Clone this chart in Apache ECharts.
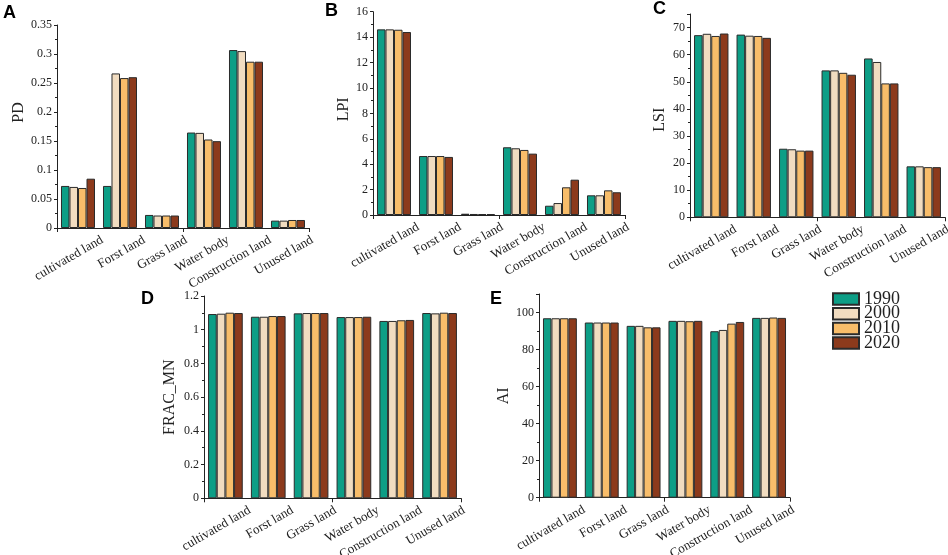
<!DOCTYPE html>
<html>
<head>
<meta charset="utf-8">
<script src="https://cdn.jsdelivr.net/npm/echarts@6/dist/echarts.min.js"></script>
<style>
  html, body { margin: 0; padding: 0; background: #fff; }
  #main { width: 948px; height: 555px; }
</style>
</head>
<body>
<div id="main"></div>
<script>
var categories = ['cultivated land', 'Forst land', 'Grass land', 'Water body', 'Construction land', 'Unused land'];
var years = ['1990', '2000', '2010', '2020'];
var colors = ['#0d9e86', '#f1dcc0', '#f8bd6a', '#8c3a1c'];

// one row per year (1990, 2000, 2010, 2020)
var PD = [
    [0.0725, 0.0725, 0.0225, 0.1646, 0.3068, 0.0127],
    [0.0708, 0.2665, 0.0215, 0.1640, 0.3050, 0.0127],
    [0.0690, 0.2585, 0.0215, 0.1526, 0.2867, 0.0138],
    [0.0850, 0.2600, 0.0215, 0.1497, 0.2867, 0.0138]
];
var LPI = [
    [14.61, 4.64, 0.10, 5.33, 0.73, 1.55],
    [14.61, 4.64, 0.08, 5.25, 0.94, 1.55],
    [14.58, 4.64, 0.07, 5.12, 2.18, 1.94],
    [14.40, 4.57, 0.07, 4.83, 2.78, 1.79]
];
var LSI = [
    [67.2, 67.4, 25.3, 54.2, 58.6, 18.8],
    [67.7, 67.0, 25.1, 54.2, 57.3, 18.8],
    [66.9, 66.9, 24.6, 53.3, 49.4, 18.5],
    [67.8, 66.2, 24.6, 52.6, 49.4, 18.5]
];
var FRAC_MN = [
    [1.093, 1.077, 1.097, 1.075, 1.052, 1.099],
    [1.095, 1.077, 1.099, 1.075, 1.052, 1.097],
    [1.101, 1.081, 1.099, 1.075, 1.056, 1.101],
    [1.099, 1.081, 1.099, 1.077, 1.058, 1.099]
];
var AI = [
    [96.9, 94.6, 92.8, 95.5, 89.9, 97.1],
    [96.9, 94.6, 92.8, 95.5, 90.6, 97.1],
    [96.9, 94.6, 92.0, 95.3, 94.0, 97.3],
    [96.9, 94.6, 92.0, 95.5, 94.9, 97.1]
];

var serif = 'Liberation Serif, Times New Roman, serif';
var ink = '#222';

// panel layout: letter, axis name, data, y range, grid box
// namePad moves the rotated axis name along the axis (left pad = up)
var panels = [
    { letter: 'A', name: 'PD', data: PD, max: 0.35, interval: 0.05, gap: 27, namePad: [0, 0, 0, 28],
      grid: { left: 57, top: 25, width: 252, height: 203 }, lx: 3, ly: 4 },
    { letter: 'B', name: 'LPI', data: LPI, max: 16, interval: 2, gap: 20, namePad: [0, 0, 0, 8],
      grid: { left: 373, top: 11.7, width: 252, height: 203.3 }, lx: 325, ly: 2 },
    { letter: 'C', name: 'LSI', data: LSI, max: 75, interval: 10, gap: 22, namePad: [0, 8, 0, 0],
      grid: { left: 690, top: 14, width: 255, height: 203.3 }, lx: 653, ly: 0 },
    { letter: 'D', name: 'FRAC_MN', data: FRAC_MN, max: 1.2, interval: 0.2, gap: 26, namePad: [0, 0, 0, 0],
      grid: { left: 204, top: 296, width: 257, height: 202.3 }, lx: 141, ly: 290 },
    { letter: 'E', name: 'AI', data: AI, max: 110, interval: 20, gap: 19, namePad: [0, 0, 0, 0],
      grid: { left: 539, top: 294, width: 251, height: 203.7 }, lx: 490, ly: 290 }
];

var grids = [], xAxes = [], yAxes = [], series = [], graphics = [];

panels.forEach(function (p, i) {
    grids.push(Object.assign({ outerBoundsMode: 'none', containLabel: false }, p.grid));
    xAxes.push({
        type: 'category',
        gridIndex: i,
        data: categories,
        axisLine: { lineStyle: { color: ink, width: 1 } },
        axisTick: { alignWithLabel: true, length: 4, lineStyle: { color: ink } },
        axisLabel: {
            interval: 0,
            rotate: 30,
            align: 'right',
            verticalAlign: 'middle',
            margin: 25,
            padding: [0, -28, 0, 0],
            fontFamily: serif,
            fontSize: 13,
            color: ink
        }
    });
    yAxes.push({
        type: 'value',
        gridIndex: i,
        min: 0,
        max: p.max,
        interval: p.interval,
        name: p.name,
        nameLocation: 'middle',
        nameGap: p.gap,
        nameTextStyle: { fontFamily: serif, fontSize: 16, color: ink, padding: p.namePad },
        axisLine: { show: true, lineStyle: { color: ink, width: 1 } },
        axisTick: { show: true, inside: false, length: 3, lineStyle: { color: ink } },
        minorTick: { show: true, splitNumber: 2, length: 2, lineStyle: { color: ink } },
        splitLine: { show: false },
        axisLabel: {
            margin: 5,
            showMaxLabel: p.max === 75 || p.max === 110 ? false : true,
            fontFamily: serif,
            fontSize: 12,
            color: ink
        }
    });
    years.forEach(function (y, k) {
        series.push({
            name: y,
            type: 'bar',
            xAxisIndex: i,
            yAxisIndex: i,
            data: p.data[k],
            barGap: '0%',
            barCategoryGap: '19%',
            itemStyle: { color: colors[k], borderColor: '#2b2b2b', borderWidth: 1 },
            emphasis: { disabled: true },
            silent: true
        });
    });
    graphics.push({
        type: 'text',
        left: p.lx,
        top: p.ly,
        style: {
            text: p.letter,
            font: 'bold 18px Liberation Sans, Arial, sans-serif',
            fill: '#000'
        }
    });
});

// second category axis per panel: only the ticks between the groups
panels.forEach(function (p, i) {
    xAxes.push({
        type: 'category',
        gridIndex: i,
        data: categories,
        position: 'bottom',
        axisLine: { show: false },
        axisTick: { show: true, length: 4, lineStyle: { color: ink } },
        axisLabel: { show: false },
        splitLine: { show: false }
    });
});

var chart = echarts.init(document.getElementById('main'), null, { renderer: 'canvas' });
chart.setOption({
    backgroundColor: '#fff',
    animation: false,
    color: colors,
    grid: grids,
    xAxis: xAxes,
    yAxis: yAxes,
    series: series,
    graphic: graphics,
    legend: {
        data: years,
        orient: 'vertical',
        left: 832,
        top: 290,
        padding: 0,
        icon: 'rect',
        itemWidth: 26,
        itemHeight: 11.5,
        itemGap: -3.3,
        textStyle: { fontFamily: serif, fontSize: 18, color: ink }
    }
});
</script>
</body>
</html>
